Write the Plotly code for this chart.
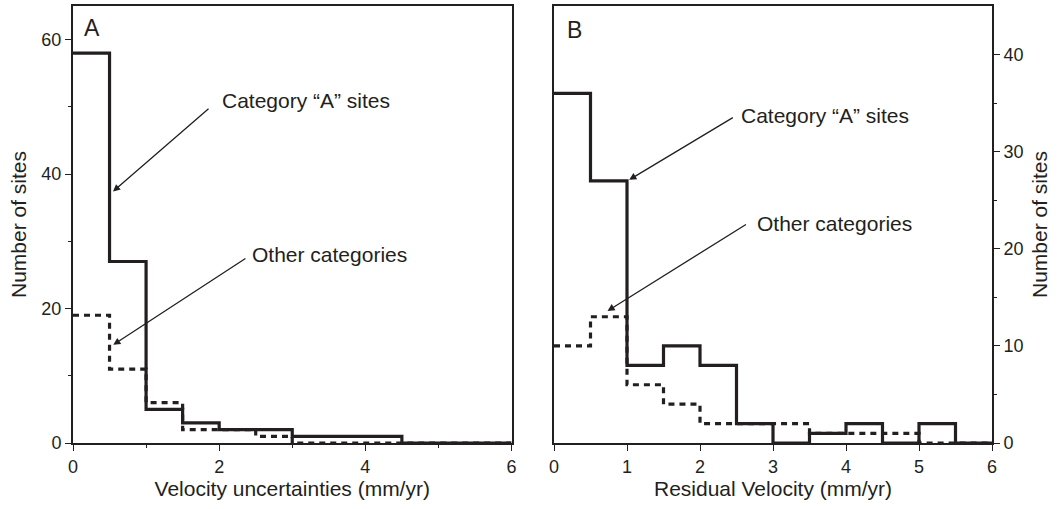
import plotly.graph_objects as go

# ---- data ----
bin_edges = [0, 0.5, 1, 1.5, 2, 2.5, 3, 3.5, 4, 4.5, 5, 5.5, 6]
a_category_a = [58, 27, 5, 3, 2, 2, 1, 1, 1, 0, 0, 0]
a_other = [19, 11, 6, 2, 2, 1, 0, 0, 0, 0, 0, 0]
b_category_a = [36, 27, 8, 10, 8, 2, 0, 1, 2, 0, 2, 0]
b_other = [10, 13, 6, 4, 2, 2, 2, 1, 1, 1, 0, 0]

a_xticks = [0, 2, 4, 6]
a_yticks = [0, 20, 40, 60]
b_xticks = [0, 1, 2, 3, 4, 5, 6]
b_yticks = [0, 10, 20, 30, 40]

FONT = "Liberation Sans, Arial, Helvetica, sans-serif"
INK = "#231f20"

W, H = 1058, 509
ML, MR, MT, MB = 73, 66, 6, 66


def step(values):
    return values + [values[-1]]


fig = go.Figure()
solid = dict(color=INK, width=3.2, shape="hv")
dashed = dict(color=INK, width=3.2, shape="hv", dash="6px,5px")

fig.add_trace(go.Scatter(x=bin_edges, y=step(a_other), mode="lines", line=dashed,
                         xaxis="x", yaxis="y", showlegend=False, cliponaxis=True))
fig.add_trace(go.Scatter(x=bin_edges, y=step(a_category_a), mode="lines", line=solid,
                         xaxis="x", yaxis="y", showlegend=False, cliponaxis=False))
fig.add_trace(go.Scatter(x=bin_edges, y=step(b_other), mode="lines", line=dashed,
                         xaxis="x2", yaxis="y2", showlegend=False, cliponaxis=True))
fig.add_trace(go.Scatter(x=bin_edges, y=step(b_category_a), mode="lines", line=solid,
                         xaxis="x2", yaxis="y2", showlegend=False, cliponaxis=False))

pw = W - ML - MR
dA = [0, (511.5 - ML) / pw]
dB = [(554 - ML) / pw, 1]

axis_common = dict(showline=True, linecolor=INK, linewidth=2, mirror=True,
                   showgrid=False, zeroline=False, ticks="outside", automargin=False,
                   tickcolor=INK, tickwidth=1.2, ticklen=6,
                   tickfont=dict(family=FONT, size=18, color=INK),
                   title_font=dict(family=FONT, size=21, color=INK))

fig.update_layout(
    width=W, height=H,
    margin=dict(l=ML, r=MR, t=MT, b=MB),
    paper_bgcolor="white", plot_bgcolor="white",
    font=dict(family=FONT, color=INK),
    xaxis=dict(axis_common, domain=dA, range=[0, 6], tickvals=a_xticks,
               minor=dict(tickvals=[1, 3, 5], ticklen=3, ticks="outside", tickcolor=INK),
               title=dict(text="Velocity uncertainties (mm/yr)", standoff=6),
               anchor="y"),
    yaxis=dict(axis_common, range=[0, 65], tickvals=a_yticks,
               minor=dict(tickvals=[10, 30, 50], ticklen=3, ticks="outside", tickcolor=INK),
               title=dict(text="Number of sites", standoff=9),
               anchor="x"),
    xaxis2=dict(axis_common, domain=dB, range=[0, 6], tickvals=b_xticks,
                title=dict(text="Residual Velocity (mm/yr)", standoff=6),
                anchor="y2"),
    yaxis2=dict(axis_common, range=[0, 45], tickvals=b_yticks, side="right",
                minor=dict(tickvals=[5, 15, 25, 35], ticklen=3, ticks="outside", tickcolor=INK),
                title=dict(text="Number of sites", standoff=10),
                anchor="x2"),
)

ann_font = dict(family=FONT, size=21, color=INK)
# panel letters
fig.add_annotation(text="A", xref="x", yref="paper", x=0.12, y=0.985, showarrow=False,
                   xanchor="left", yanchor="top", font=dict(family=FONT, size=23, color=INK))
fig.add_annotation(text="B", xref="x2", yref="paper", x=0.15, y=0.98, showarrow=False,
                   xanchor="left", yanchor="top", font=dict(family=FONT, size=23, color=INK))

# labels
labels = [
    ("Category “A” sites", "x", "y", 2.01, 50.9),
    ("Other categories", "x", "y", 2.42, 28.1),
    ("Category “A” sites", "x2", "y2", 2.54, 33.7),
    ("Other categories", "x2", "y2", 2.75, 22.6),
]
for txt, xr, yr, x, y in labels:
    fig.add_annotation(text=txt, xref=xr, yref=yr, x=x, y=y, showarrow=False,
                       xanchor="left", yanchor="middle", font=ann_font)

# arrows: (xref, yref, head_x, head_y, tail_x, tail_y)
arrows = [
    ("x", "y", 0.547, 37.4, 1.875, 49.9),
    ("x", "y", 0.551, 14.6, 2.38, 27.6),
    ("x2", "y2", 1.03, 27.1, 2.47, 33.6),
    ("x2", "y2", 0.733, 13.6, 2.65, 22.6),
]
for xr, yr, hx, hy, tx, ty in arrows:
    fig.add_annotation(text="", xref=xr, yref=yr, x=hx, y=hy, ax=tx, ay=ty,
                       axref=xr, ayref=yr, showarrow=True, arrowhead=2, arrowsize=1.1,
                       arrowwidth=1.3, arrowcolor=INK, standoff=0)

fig.write_html("out.html", config={"displayModeBar": False},
               post_script="document.body.style.margin='0';document.body.style.overflow='hidden';")
